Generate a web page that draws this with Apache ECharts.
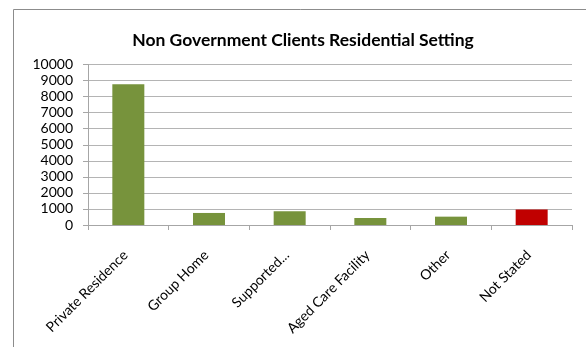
<!DOCTYPE html>
<html>
<head>
<meta charset="utf-8">
<script src="https://cdn.jsdelivr.net/npm/echarts@6/dist/echarts.min.js"></script>
<style>
  html, body { margin: 0; padding: 0; background: #ffffff; }
  #chart { width: 586px; height: 347px; }
</style>
</head>
<body>
<div id="chart"></div>
<script>
// Client counts by residential setting
const categories = ['Private Residence', 'Group Home', 'Supported...', 'Aged Care Facility', 'Other', 'Not Stated'];
const clientCounts = [8770, 750, 850, 440, 520, 960];
const barColors = ['#77933c', '#77933c', '#77933c', '#77933c', '#77933c', '#c00000'];
const yTicks = { min: 0, max: 10000, interval: 1000 };

const chart = echarts.init(document.getElementById('chart'), null, { renderer: 'canvas' });

chart.setOption({
  backgroundColor: '#ffffff',
  animation: false,
  graphic: [{
    type: 'rect',
    shape: { x: 13.5, y: 9.5, width: 600, height: 400 },
    style: { fill: 'none', stroke: '#8c8c8c', lineWidth: 1 },
    silent: true,
    z: -10
  }],
  title: {
    text: 'Non Government Clients Residential Setting',
    left: 298,
    textAlign: 'center',
    top: 26,
    textStyle: { fontFamily: 'Lato', fontWeight: 'bold', fontSize: 17.5, color: '#000000' }
  },
  grid: { left: 88, right: 14, top: 64.5, bottom: 122 },
  xAxis: {
    type: 'category',
    data: categories,
    boundaryGap: true,
    axisLine: { show: true, lineStyle: { color: '#a6a6a6', width: 1 } },
    axisTick: { show: true, length: 5, alignWithLabel: false, lineStyle: { color: '#a6a6a6' } },
    axisLabel: {
      rotate: 45,
      margin: 25,
      interval: 0,
      padding: [0, 4, 0, 0],
      fontFamily: 'Lato',
      fontSize: 14,
      color: '#000000'
    }
  },
  yAxis: {
    type: 'value',
    min: yTicks.min,
    max: yTicks.max,
    interval: yTicks.interval,
    axisLine: { show: true, lineStyle: { color: '#a6a6a6', width: 1 } },
    axisTick: { show: true, length: 5, lineStyle: { color: '#a6a6a6' } },
    splitLine: { show: true, lineStyle: { color: '#b4b4b4', width: 1 } },
    axisLabel: {
      margin: 15,
      fontFamily: 'Lato',
      fontSize: 14,
      color: '#000000',
      formatter: (v) => String(v)
    }
  },
  series: [{
    type: 'bar',
    data: clientCounts.map((v, i) => ({ value: v, itemStyle: { color: barColors[i] } })),
    barWidth: 32
  }]
});
</script>
</body>
</html>
